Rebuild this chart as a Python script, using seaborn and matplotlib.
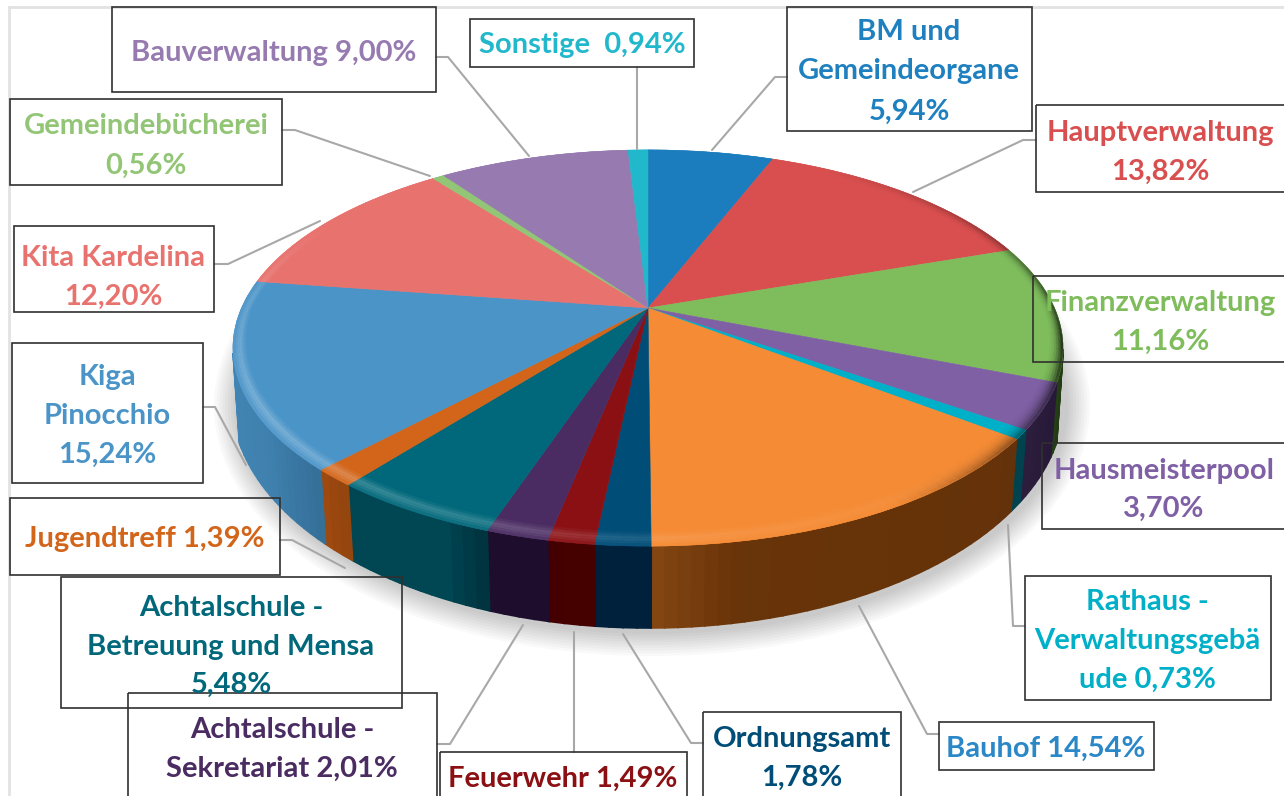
"""3D-look pie of cost shares per department, drawn with seaborn + matplotlib."""

import numpy as np
import matplotlib
matplotlib.use("Agg")
import matplotlib.pyplot as plt
from matplotlib.colors import to_rgb
from matplotlib.patches import Ellipse, Rectangle
from matplotlib.transforms import Transform
import seaborn as sns

# ── Data ──────────────────────────────────────────────────────────────────────
DEPARTMENTS = ["BM und Gemeindeorgane", "Hauptverwaltung", "Finanzverwaltung", "Hausmeisterpool",
               "Rathaus - Verwaltungsgebäude", "Bauhof", "Ordnungsamt", "Feuerwehr",
               "Achtalschule - Sekretariat", "Achtalschule - Betreuung und Mensa", "Jugendtreff",
               "Kiga Pinocchio", "Kita Kardelina", "Gemeindebücherei", "Bauverwaltung", "Sonstige"]
SHARES = [5.94, 13.82, 11.16, 3.70, 0.73, 14.54, 1.78, 1.49,
          2.01, 5.48, 1.39, 15.24, 12.20, 0.56, 9.00, 0.94]

SLICE_COLORS = ["#1b7dbd", "#d94f4f", "#7fbd5c", "#8060a5", "#00b0c8", "#f58b35", "#004d78", "#8a1014",
                "#4a2c62", "#00687a", "#d2651a", "#4a94c8", "#e8726e", "#92c676", "#967ab0", "#22b8cc"]
TEXT_COLORS = ["#1f80c0", "#d94f4f", "#7fbd5c", "#8060a5", "#00b0c8", "#2a87c8", "#004d78", "#8a1014",
               "#4a2c62", "#00687a", "#d2651a", "#4a94c8", "#e8726e", "#92c676", "#967ab0", "#22b8cc"]
LABEL_LINES = [["BM und", "Gemeindeorgane", "5,94%"], ["Hauptverwaltung", "13,82%"],
               ["Finanzverwaltung", "11,16%"], ["Hausmeisterpool", "3,70%"],
               ["Rathaus -", "Verwaltungsgebä", "ude 0,73%"], ["Bauhof 14,54%"],
               ["Ordnungsamt", "1,78%"], ["Feuerwehr 1,49%"],
               ["Achtalschule -", "Sekretariat 2,01%"], ["Achtalschule -", "Betreuung und Mensa", "5,48%"],
               ["Jugendtreff 1,39%"], ["Kiga", "Pinocchio", "15,24%"], ["Kita Kardelina", "12,20%"],
               ["Gemeindebücherei", "0,56%"], ["Bauverwaltung 9,00%"], ["Sonstige  0,94%"]]

# ── Layout (page pixels) ──────────────────────────────────────────────────────
# box x0, y0, x1, y1 and the y of each text line
BOXES = [(787, 7, 1032, 131), (1036, 105, 1290, 192), (1033, 276, 1290, 362), (1042, 443, 1290, 529),
         (1025, 576, 1271, 700), (939, 722, 1154, 770), (703, 712, 901, 810), (440, 752, 687, 810),
         (128, 693, 437, 810), (61, 577, 402, 708), (10, 498, 280, 575), (12, 343, 203, 483),
         (14, 226, 214, 312), (10, 99, 282, 185), (112, 7, 436, 92), (470, 19, 694, 67)]
TEXT_X = [909, 1160, 1160, 1164, 1147, 1046, 802, 563, 282, 231, 145, 107, 113, 146, 274, 582]
TEXT_Y = [[31, 70, 110], [132, 170], [301, 340], [469, 507], [600, 639, 678], [747], [737, 776], [777],
          [729, 767], [606, 645, 683], [538], [376, 414, 453], [256, 295], [124, 164], [52], [44]]
LEADERS = [[(787, 77), (775, 77), (712, 150)], [(1036, 140), (1023, 140), (913, 192)],
           [(1025, 626), (1013, 626), (1008, 525)], [(939, 734), (927, 734), (859, 606)],
           [(703, 743), (691, 743), (623, 634)], [(574, 752), (574, 632)],
           [(437, 744), (450, 744), (523, 625)], [(280, 540), (292, 540), (345, 568)],
           [(203, 407), (215, 407), (246, 465)], [(214, 264), (228, 264), (320, 221)],
           [(282, 130), (295, 130), (430, 176)], [(436, 57), (448, 57), (529, 156)],
           [(637, 67), (637, 149)]]

CX, CY = 648.0, 308.0      # where the slices meet
RX, RY, TILT = 406.5, 190.0, 0.202
BOTTOM_CY, BOTTOM_RX, BOTTOM_RY = 400.0, 416.0, 228.0

sns.set_theme(style="white")
plt.rcParams["font.family"] = ["Lato", "DejaVu Sans"]
palette = sns.color_palette(SLICE_COLORS)


# ── Perspective ───────────────────────────────────────────────────────────────
class DiscToPage(Transform):
    """Unit disc of the pie -> page pixels, tilted so the front looks closer."""
    input_dims = 2
    output_dims = 2

    def transform_non_affine(self, values):
        xy = np.asarray(values, dtype=float)
        w = 1 + TILT * xy[:, 1]
        return np.column_stack([CX + RX * xy[:, 0] / w, CY - RY * xy[:, 1] / w])


def rim(r, th):
    rad = np.radians(th)
    return DiscToPage().transform_non_affine(np.column_stack([r * np.cos(rad), r * np.sin(rad)]))


def floor_of(top):
    dx = 0.985 * (top[:, 0] - CX)
    y = BOTTOM_CY + BOTTOM_RY * np.sqrt(np.clip(1 - (dx / BOTTOM_RX) ** 2, 0, None))
    return np.column_stack([CX + dx, y])


def mix(color, other, k):
    return tuple((1 - k) * np.array(color) + k * np.array(to_rgb(other)))


def wall_color(color, cw):
    stops = [100, 125, 170, 180, 198, 204, 218, 225, 235, 280]
    f = np.interp(cw, stops, [0.42, 0.47, 0.5, 0.6, 0.58, 0.72, 0.72, 0.8, 0.88, 0.95])
    k = np.interp(cw, stops, [0.08, 0.06, 0.07, 0.05, 0.05, 0.02, 0.02, 0.02, 0.01, 0])
    return tuple(np.clip(f * np.array(color) - k, 0, 1))


# ── Figure ────────────────────────────────────────────────────────────────────
fig = plt.figure(figsize=(12.84, 7.96), dpi=100, facecolor="white")
ax = fig.add_axes([0, 0, 1, 1])

wedges, _ = ax.pie(SHARES, colors=palette, startangle=90, counterclock=False, radius=1,
                   wedgeprops={"linewidth": 0.4, "zorder": 5})
for w, c in zip(wedges, palette):
    w.set_edgecolor(c)
    w.set_transform(DiscToPage() + ax.transData)

ax.set_aspect("auto")
ax.set_xlim(0, 1284)
ax.set_ylim(796, 0)
ax.axis("off")

# soft shadow under the cake
for grow in np.linspace(22, 0, 9):
    ax.add_patch(Ellipse((CX + 4, BOTTOM_CY + 6), 2 * (BOTTOM_RX + grow), 2 * (BOTTOM_RY + grow),
                         fc="black", ec="none", alpha=0.022, zorder=1))

# side wall, cut into thin strips for the shading
for w, c in zip(wedges, palette):
    n = max(2, int((w.theta2 - w.theta1) / 1.5) + 1)
    th = np.linspace(w.theta1, w.theta2, n)
    top = rim(1, th)
    low = floor_of(top)
    for i in range(n - 1):
        mid = 0.5 * (th[i] + th[i + 1])
        if np.sin(np.radians(mid)) > -TILT - 0.02:
            continue
        side = wall_color(c, (90 - mid) % 360)
        ax.fill([top[i, 0], top[i + 1, 0], low[i + 1, 0], low[i, 0]],
                [top[i, 1], top[i + 1, 1], low[i + 1, 1], low[i, 1]],
                fc=side, ec=side, lw=1.2, zorder=3)

# bevel on the outer edge of the top face, about 10 px wide all round
lit_steps = [0.25, 0.6, 1.0, 0.9, 0.6, 0.3]
dark_steps = [0.05, 0.12, 0.25, 0.45, 0.7, 1.0]
for w, c in zip(wedges, palette):
    n = max(2, int((w.theta2 - w.theta1) / 1.5) + 1)
    th = np.linspace(w.theta1, w.theta2, n)
    depth = 0.026 + 0.022 * np.abs(np.sin(np.radians(th)))
    for j, (lit, shade) in enumerate(zip(lit_steps, dark_steps)):
        inner = rim(1 - depth * (1 - j / 6), th)
        outer = rim(1 - depth * (1 - (j + 1) / 6), th)
        for i in range(n - 1):
            cw = (90 - 0.5 * (th[i] + th[i + 1])) % 360
            light = lit * np.interp(cw, [130, 170, 200, 240, 275, 300], [0, 0.08, 0.18, 0.25, 0.15, 0])
            dark = shade * np.interp(cw, [30, 70, 100, 130, 150], [0, 0.3, 0.7, 0.35, 0])
            col = mix(mix(c, "white", light), "black", dark)
            ax.fill([inner[i, 0], inner[i + 1, 0], outer[i + 1, 0], outer[i, 0]],
                    [inner[i, 1], inner[i + 1, 1], outer[i + 1, 1], outer[i, 1]],
                    fc=col, ec=col, lw=0.3, zorder=6)

# picture frame left and on top
ax.plot([9, 9, 1284], [796, 7, 7], color="#e2e2e2", lw=2, zorder=7, solid_joinstyle="miter")

# ── Labels ────────────────────────────────────────────────────────────────────
for line in LEADERS:
    xs, ys = zip(*line)
    ax.plot(xs, ys, color="#a8a8a8", lw=1.5, zorder=8)

for lines, color, box, tx, tys in zip(LABEL_LINES, TEXT_COLORS, BOXES, TEXT_X, TEXT_Y):
    x0, y0, x1, y1 = box
    ax.add_patch(Rectangle((x0, y0), x1 - x0, y1 - y0, fc="none", ec="#303030", lw=1.2, zorder=9))
    for s, ty in zip(lines, tys):
        ax.text(tx, ty + 1.5, s, color=color, fontsize=21, fontweight="bold",
                ha="center", va="center", zorder=10)

fig.savefig("out.png", dpi=100)
